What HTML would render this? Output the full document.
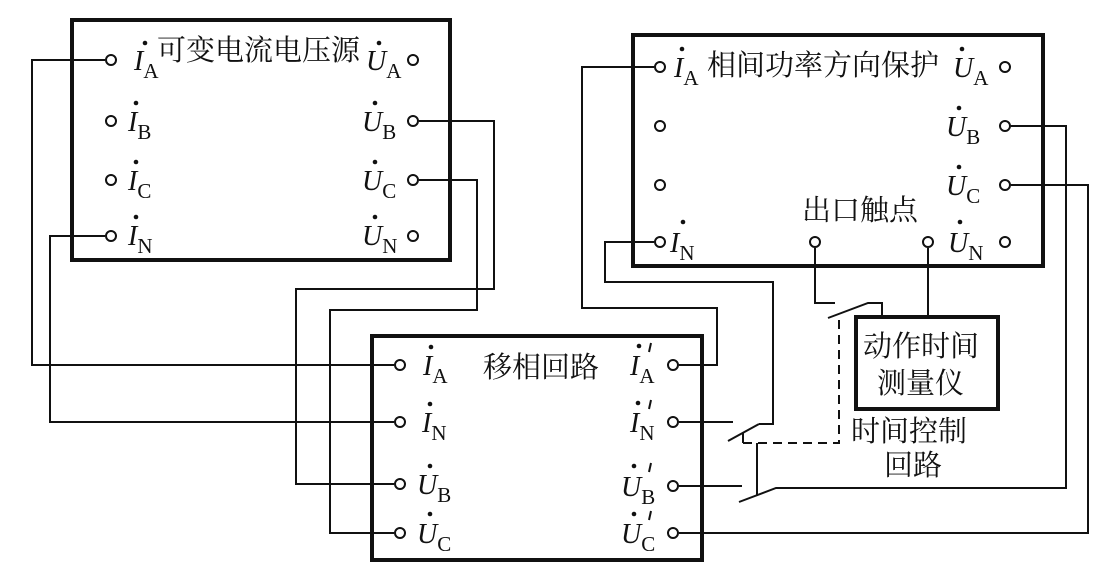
<!DOCTYPE html>
<html><head><meta charset="utf-8"><style>
body{margin:0;background:#fff}
svg{display:block}
text{font-family:"Liberation Serif","Noto Serif CJK SC",serif;fill:#111}
.cn{font-family:"Liberation Serif","Noto Serif CJK SC","Noto Sans CJK SC",serif;font-size:29px}
.v{font-style:italic;font-size:28px}
.s{font-size:21px}
</style></head><body>
<svg width="1110" height="588" viewBox="0 0 1110 588" xmlns="http://www.w3.org/2000/svg">
<g fill="none" stroke="#111">
<rect x="72" y="20" width="378" height="240" stroke-width="4"/>
<rect x="633" y="35" width="410" height="231" stroke-width="4"/>
<rect x="372" y="336" width="330" height="224" stroke-width="4"/>
<rect x="856" y="317" width="142" height="92" stroke-width="4"/>
<g stroke-width="2">
<polyline points="105,60 32,60 32,365 394,365"/>
<polyline points="105,236 50,236 50,422 394,422"/>
<polyline points="419,121 494,121 494,289 296,289 296,484 394,484"/>
<polyline points="419,180 477,180 477,310 330,310 330,533 394,533"/>
<polyline points="654,67 582,67 582,308 717,308 717,365 679,365"/>
<polyline points="654,242 605,242 605,282 773,282 773,424 759,424"/>
<polyline points="728,441 759,424"/>
<polyline points="679,422 733,422"/>
<polyline points="679,486 742,486"/>
<polyline points="739,502 776,488 1066,488 1066,126 1011,126"/>
<polyline points="757,443 757,496"/>
<polyline points="679,533 1088,533 1088,185 1011,185"/>
<polyline points="815,248 815,303 835,303"/>
<polyline points="828,318 868,303 882,303 882,317"/>
<polyline points="928,248 928,317"/>
<polyline points="743,433 743,443" />
<polyline points="743,443 839,443 839,320" stroke-dasharray="9,6"/>
<!-- primes -->
<line x1="651" y1="343" x2="649" y2="352"/>
<line x1="651" y1="400" x2="649" y2="409"/>
<line x1="651" y1="463" x2="649" y2="472"/>
<line x1="651" y1="511" x2="649" y2="520"/>
</g>
<g stroke-width="2" fill="#fff">
<circle cx="111" cy="60" r="5"/><circle cx="111" cy="121" r="5"/><circle cx="111" cy="180" r="5"/><circle cx="111" cy="236" r="5"/>
<circle cx="413" cy="60" r="5"/><circle cx="413" cy="121" r="5"/><circle cx="413" cy="180" r="5"/><circle cx="413" cy="236" r="5"/>
<circle cx="660" cy="67" r="5"/><circle cx="660" cy="126" r="5"/><circle cx="660" cy="185" r="5"/><circle cx="660" cy="242" r="5"/>
<circle cx="1005" cy="67" r="5"/><circle cx="1005" cy="126" r="5"/><circle cx="1005" cy="185" r="5"/><circle cx="1005" cy="242" r="5"/>
<circle cx="815" cy="242" r="5"/><circle cx="928" cy="242" r="5"/>
<circle cx="400" cy="365" r="5"/><circle cx="400" cy="422" r="5"/><circle cx="400" cy="484" r="5"/><circle cx="400" cy="533" r="5"/>
<circle cx="673" cy="365" r="5"/><circle cx="673" cy="422" r="5"/><circle cx="673" cy="486" r="5"/><circle cx="673" cy="533" r="5"/>
</g>
</g>
<g fill="#111">
<circle cx="145" cy="43" r="2.3"/><circle cx="136" cy="103" r="2.3"/><circle cx="136" cy="162" r="2.3"/><circle cx="136" cy="217" r="2.3"/>
<circle cx="379" cy="43" r="2.3"/><circle cx="375" cy="103" r="2.3"/><circle cx="375" cy="162" r="2.3"/><circle cx="375" cy="217" r="2.3"/>
<circle cx="682" cy="49" r="2.3"/><circle cx="683" cy="222" r="2.3"/>
<circle cx="962" cy="49" r="2.3"/><circle cx="959" cy="108" r="2.3"/><circle cx="959" cy="167" r="2.3"/><circle cx="960" cy="222" r="2.3"/>
<circle cx="431" cy="347" r="2.3"/><circle cx="430" cy="404" r="2.3"/><circle cx="430" cy="466" r="2.3"/><circle cx="430" cy="514" r="2.3"/>
<circle cx="639" cy="346" r="2.3"/><circle cx="638" cy="403" r="2.3"/><circle cx="634" cy="466" r="2.3"/><circle cx="634" cy="514" r="2.3"/>
</g>
<text x="134" y="70" class="v">I<tspan class="s" font-style="normal" dy="8">A</tspan></text>
<text x="157" y="60" class="cn">可变电流电压源</text>
<text x="366" y="70" class="v">U<tspan class="s" font-style="normal" dy="8">A</tspan></text>
<text x="128" y="131" class="v">I<tspan class="s" font-style="normal" dy="8">B</tspan></text>
<text x="128" y="190" class="v">I<tspan class="s" font-style="normal" dy="8">C</tspan></text>
<text x="128" y="245" class="v">I<tspan class="s" font-style="normal" dy="8">N</tspan></text>
<text x="362" y="131" class="v">U<tspan class="s" font-style="normal" dy="8">B</tspan></text>
<text x="362" y="190" class="v">U<tspan class="s" font-style="normal" dy="8">C</tspan></text>
<text x="362" y="245" class="v">U<tspan class="s" font-style="normal" dy="8">N</tspan></text>
<text x="674" y="77" class="v">I<tspan class="s" font-style="normal" dy="8">A</tspan></text>
<text x="707" y="75" class="cn">相间功率方向保护</text>
<text x="953" y="77" class="v">U<tspan class="s" font-style="normal" dy="8">A</tspan></text>
<text x="946" y="136" class="v">U<tspan class="s" font-style="normal" dy="8">B</tspan></text>
<text x="946" y="195" class="v">U<tspan class="s" font-style="normal" dy="8">C</tspan></text>
<text x="948" y="252" class="v">U<tspan class="s" font-style="normal" dy="8">N</tspan></text>
<text x="670" y="252" class="v">I<tspan class="s" font-style="normal" dy="8">N</tspan></text>
<text x="802" y="220" class="cn">出口触点</text>
<text x="423" y="375" class="v">I<tspan class="s" font-style="normal" dy="8">A</tspan></text>
<text x="483" y="377" class="cn">移相回路</text>
<text x="422" y="432" class="v">I<tspan class="s" font-style="normal" dy="8">N</tspan></text>
<text x="417" y="494" class="v">U<tspan class="s" font-style="normal" dy="8">B</tspan></text>
<text x="417" y="543" class="v">U<tspan class="s" font-style="normal" dy="8">C</tspan></text>
<text x="630" y="375" class="v">I<tspan class="s" font-style="normal" dy="8">A</tspan></text>
<text x="630" y="432" class="v">I<tspan class="s" font-style="normal" dy="8">N</tspan></text>
<text x="621" y="496" class="v">U<tspan class="s" font-style="normal" dy="8">B</tspan></text>
<text x="621" y="543" class="v">U<tspan class="s" font-style="normal" dy="8">C</tspan></text>
<text x="863" y="356" class="cn">动作时间</text>
<text x="877" y="393" class="cn">测量仪</text>
<text x="851" y="441" class="cn">时间控制</text>
<text x="884" y="475" class="cn">回路</text>
</svg>
</body></html>
